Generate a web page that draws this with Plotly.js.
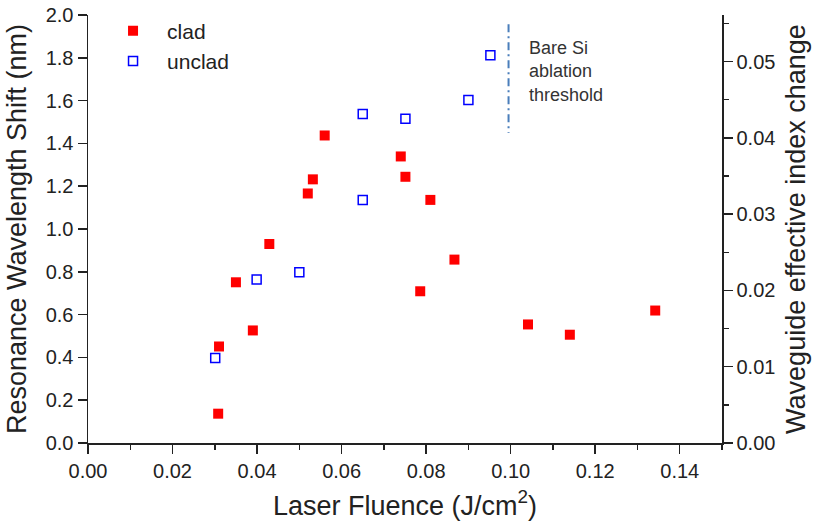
<!DOCTYPE html>
<html>
<head>
<meta charset="utf-8">
<script src="https://cdn.plot.ly/plotly-3.0.1.min.js"></script>
<style>html,body{margin:0;padding:0;background:#fff;}#chart{width:815px;height:529px;}</style>
</head>
<body>
<div id="chart"></div>
<script>
// Clad (filled red squares)
const cladX = [0.0308, 0.0310, 0.0390, 0.0350, 0.0429, 0.0520, 0.0532, 0.0560, 0.0740, 0.0751, 0.0786, 0.0810, 0.0867, 0.1041, 0.1140, 0.1342];
const cladY = [0.137, 0.451, 0.526, 0.751, 0.930, 1.166, 1.232, 1.437, 1.339, 1.244, 0.709, 1.136, 0.857, 0.554, 0.506, 0.619];
// Unclad (open blue squares)
const uncladX = [0.0301, 0.0399, 0.0500, 0.0650, 0.0650, 0.0751, 0.0900, 0.0952];
const uncladY = [0.397, 0.764, 0.798, 1.136, 1.537, 1.515, 1.603, 1.812];
// Bare Si ablation threshold marker
const thresholdX = [0.0995, 0.0995];
const thresholdY = [1.957, 1.449];
const thresholdLabel = "Bare Si<br>ablation<br>threshold";
const legendNames = ["clad", "unclad"];
const xTitle = "Laser Fluence (J/cm<sup>2</sup>)";
const yTitle = "Resonance Wavelength Shift (nm)";
const y2Title = "Waveguide effective index change";

const FONT = "Liberation Sans, Arial, sans-serif";
const INK = "#222222";

const traces = [
  {x: cladX, y: cladY, name: legendNames[0], type: "scatter", mode: "markers",
   marker: {symbol: "square", size: 10, color: "#ff0000", line: {width: 0}}},
  {x: uncladX, y: uncladY, name: legendNames[1], type: "scatter", mode: "markers",
   marker: {symbol: "square-open", size: 9, color: "#0000ff", line: {width: 1.5}}},
  {x: thresholdX, y: thresholdY, type: "scatter", mode: "lines", showlegend: false, hoverinfo: "skip",
   line: {color: "#4a7ebb", width: 2, dash: "8px,4px,2px,4px"}},
  {x: [null], y: [null], yaxis: "y2", type: "scatter", mode: "markers", showlegend: false, hoverinfo: "skip"}
];

const axisCommon = {
  showline: true, linecolor: INK, linewidth: 1.5, mirror: false,
  ticks: "outside", ticklen: 9, tickwidth: 1.5, tickcolor: INK,
  showgrid: false, zeroline: false,
  tickfont: {family: FONT, size: 20, color: INK}
};

const layout = {
  width: 815, height: 529,
  margin: {l: 88, r: 93.4, t: 14, b: 86.3},
  paper_bgcolor: "#ffffff", plot_bgcolor: "#ffffff",
  showlegend: true,
  legend: {x: 0.0174, y: 1.008, xanchor: "left", yanchor: "top", bgcolor: "rgba(0,0,0,0)",
           itemwidth: 58,
           font: {family: FONT, size: 21, color: INK}, tracegroupgap: 0},
  xaxis: Object.assign({}, axisCommon, {
    range: [0, 0.15], dtick: 0.02, tick0: 0, tickformat: ".2f",
    minor: {dtick: 0.01, ticks: "outside", ticklen: 5, tickwidth: 1.5, tickcolor: INK},
    title: {text: xTitle, font: {family: FONT, size: 27, color: INK}, standoff: 15}
  }),
  yaxis: Object.assign({}, axisCommon, {
    range: [0, 2.0], dtick: 0.2, tick0: 0, tickformat: ".1f",
    title: {text: yTitle, font: {family: FONT, size: 27, color: INK}, standoff: 11}
  }),
  yaxis2: Object.assign({}, axisCommon, {
    overlaying: "y", side: "right", anchor: "x",
    range: [0, 0.0561], dtick: 0.01, tick0: 0, tickformat: ".2f",
    minor: {dtick: 0.005, ticks: "outside", ticklen: 5, tickwidth: 1.5, tickcolor: INK},
    title: {text: y2Title, font: {family: FONT, size: 27, color: INK}, standoff: 11}
  }),
  annotations: [{
    x: 0.1039, y: 1.90, xref: "x", yref: "y", xanchor: "left", yanchor: "top",
    text: thresholdLabel, showarrow: false, align: "left",
    font: {family: FONT, size: 18, color: "#333333"}
  }]
};

Plotly.newPlot("chart", traces, layout, {displayModeBar: false, staticPlot: true});
</script>
</body>
</html>
